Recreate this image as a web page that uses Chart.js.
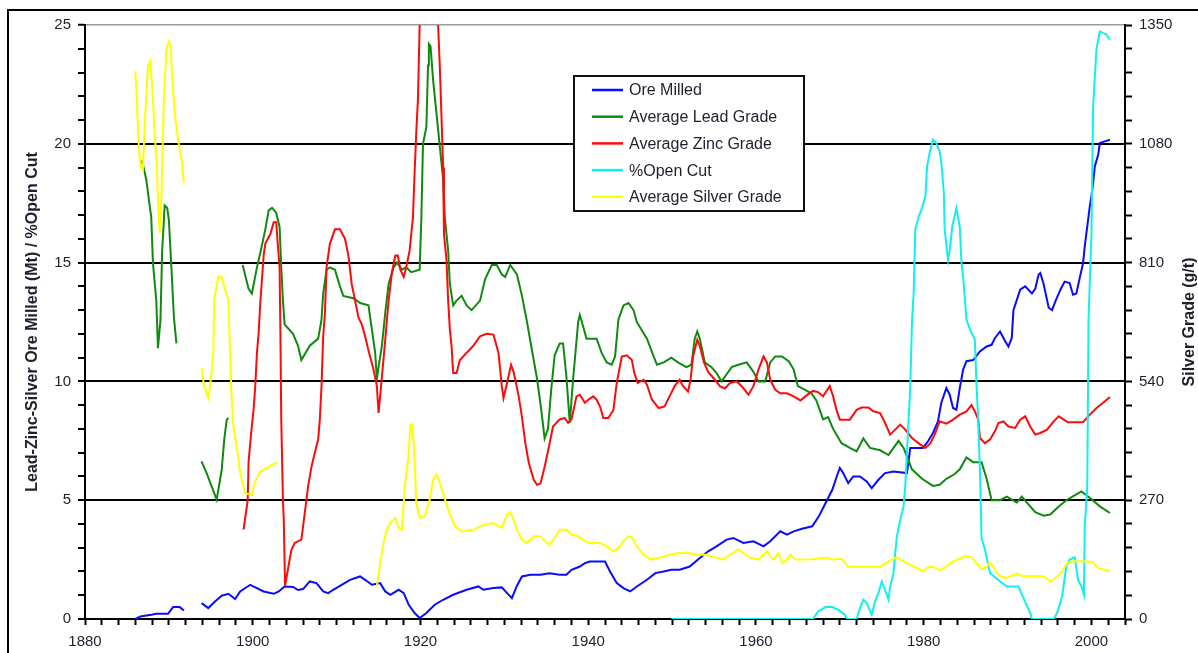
<!DOCTYPE html>
<html>
<head>
<meta charset="utf-8">
<script src="https://cdn.jsdelivr.net/npm/chart.js@4.4.1/dist/chart.umd.min.js"></script>
<style>
  html, body { margin: 0; padding: 0; background: #ffffff; }
  #wrap { width: 1198px; height: 653px; position: relative; }
</style>
</head>
<body>
<div id="wrap"><canvas id="c" width="1198" height="653"></canvas></div>
<script>
// ---- Ore milled (Mt), null marks a break in the record ----
const oreYears = [1886.0,1886.6,1887.9,1888.5,1889.9,1890.5,1891.3,1891.8,1892.8,1893.9,1894.7,1895.5,1896.3,1897.1,1897.9,1898.5,1899.7,1900.5,1901.3,1902.5,1903.1,1903.8,1904.8,1905.4,1906.0,1906.8,1907.6,1908.4,1909.0,1909.6,1910.6,1911.6,1912.8,1913.4,1914.2,1915.2,1915.8,1916.4,1917.4,1918.0,1918.6,1919.3,1919.9,1920.7,1921.7,1922.7,1923.9,1925.5,1926.9,1927.5,1928.7,1929.7,1930.3,1930.9,1931.5,1932.1,1933.1,1934.3,1935.4,1936.6,1937.4,1938.0,1939.0,1939.6,1940.2,1942.0,1942.6,1943.4,1944.2,1945.0,1945.8,1947.0,1948.0,1949.0,1949.9,1950.9,1952.1,1953.3,1954.3,1955.3,1956.5,1957.3,1958.5,1959.7,1960.9,1961.7,1962.9,1963.7,1964.5,1965.5,1966.7,1967.5,1968.3,1969.1,1969.7,1970.0,1970.4,1971.0,1971.6,1972.4,1973.2,1973.8,1974.6,1975.4,1976.4,1978.0,1978.4,1979.9,1980.5,1981.1,1981.7,1982.1,1982.7,1983.1,1983.5,1983.9,1984.3,1984.7,1985.1,1985.9,1986.7,1987.5,1988.1,1988.5,1989.1,1989.7,1990.1,1990.5,1990.7,1991.5,1992.1,1992.9,1993.3,1993.7,1993.9,1994.3,1994.9,1995.3,1995.7,1996.3,1996.8,1997.4,1997.8,1998.2,1998.6,1999.0,1999.2,1999.6,1999.8,2000.0,2000.2,2000.4,2000.8,2001.0,2001.6,2002.2];
const oreMilled = [0.0,0.11,0.18,0.22,0.22,0.5,0.5,0.36,null,0.67,0.46,0.74,0.98,1.06,0.84,1.16,1.44,1.3,1.16,1.06,1.16,1.37,1.35,1.22,1.26,1.58,1.51,1.16,1.09,1.23,1.44,1.65,1.79,1.65,1.44,1.51,1.16,1.02,1.23,1.09,0.6,0.25,0.04,0.25,0.6,0.81,1.02,1.23,1.37,1.23,1.3,1.33,1.1,0.88,1.4,1.79,1.86,1.86,1.93,1.86,1.86,2.07,2.21,2.35,2.42,2.42,2.0,1.51,1.3,1.16,1.37,1.65,1.93,2.0,2.07,2.07,2.21,2.57,2.85,3.06,3.34,3.41,3.2,3.27,3.06,3.27,3.69,3.55,3.69,3.8,3.9,4.32,4.88,5.44,6.07,6.36,6.14,5.72,6.0,6.0,5.79,5.51,5.86,6.14,6.21,6.14,7.2,7.2,7.47,7.83,8.32,9.1,9.72,9.44,8.88,8.81,9.72,10.5,10.85,10.9,11.26,11.47,11.54,11.83,12.1,11.7,11.47,11.83,13.0,13.86,14.0,13.7,13.9,14.5,14.56,14.1,13.1,13.0,13.37,13.86,14.2,14.14,13.65,13.7,14.35,14.98,15.68,16.8,17.37,17.8,18.35,19.05,19.54,20.03,20.1,20.17];

// ---- Average lead grade (%) ----
const leadYears = [1886.8,1887.3,1887.9,1888.1,1888.5,1888.7,1889.0,1889.2,1889.5,1889.8,1890.0,1890.3,1890.6,1890.9,1892.5,1893.9,1894.5,1895.1,1895.7,1896.3,1896.6,1896.9,1897.1,1898.0,1898.8,1899.5,1899.9,1900.5,1900.9,1901.5,1901.9,1902.3,1902.8,1903.2,1903.4,1903.6,1903.8,1904.8,1905.4,1905.8,1906.8,1907.8,1908.2,1908.4,1908.8,1909.2,1909.8,1910.4,1910.8,1912.0,1912.8,1913.8,1914.2,1914.6,1914.8,1915.0,1915.4,1915.8,1916.2,1916.8,1917.2,1917.8,1918.3,1918.9,1919.9,1920.1,1920.3,1920.7,1920.9,1921.0,1921.2,1921.5,1921.9,1922.3,1922.7,1922.9,1923.3,1923.5,1923.9,1924.3,1924.9,1925.5,1926.1,1927.1,1927.7,1928.5,1929.1,1929.7,1930.1,1930.7,1931.5,1932.1,1932.7,1933.3,1933.9,1934.4,1934.8,1935.2,1935.6,1936.0,1936.6,1937.0,1937.4,1937.8,1938.2,1938.8,1939.0,1939.4,1939.8,1941.0,1941.6,1942.2,1942.8,1943.2,1943.6,1944.2,1944.8,1945.4,1945.8,1947.0,1947.8,1948.2,1949.0,1949.9,1950.7,1951.7,1952.3,1952.7,1953.0,1953.3,1953.9,1954.7,1955.3,1955.9,1956.5,1957.1,1957.9,1958.9,1959.7,1960.3,1961.1,1961.7,1962.3,1963.1,1963.9,1964.5,1965.0,1965.8,1966.6,1967.2,1968.0,1968.6,1969.2,1970.2,1971.2,1972.0,1972.8,1973.6,1974.8,1975.8,1976.4,1977.0,1977.6,1978.6,1979.8,1981.1,1981.9,1982.7,1983.7,1984.3,1985.1,1985.9,1986.9,1987.5,1988.1,1989.1,1989.9,1991.1,1991.7,1992.3,1993.3,1994.3,1995.1,1996.0,1997.0,1998.0,1998.8,1999.8,2001.0,2002.2];
const leadGrade = [19.3,18.5,16.9,15.0,13.4,11.4,12.6,15.5,17.4,17.3,16.8,14.8,12.7,11.6,null,6.63,6.14,5.58,5.02,6.28,7.55,8.39,8.46,null,14.9,13.9,13.7,14.8,15.4,16.4,17.2,17.3,17.1,16.5,14.8,13.4,12.4,12.0,11.5,10.9,11.5,11.8,12.6,13.7,14.7,14.8,14.7,14.0,13.6,13.5,13.3,13.2,12.2,11.2,10.1,10.6,11.5,12.9,14.1,14.8,15.0,14.7,14.8,14.6,14.7,16.8,20.0,20.7,23.3,24.2,24.1,22.7,21.3,19.9,18.5,16.9,15.5,14.1,13.2,13.4,13.6,13.2,13.0,13.4,14.3,14.9,14.9,14.5,14.4,14.9,14.5,13.6,12.5,11.3,10.1,8.8,7.6,8.0,9.7,11.1,11.6,11.6,10.2,8.25,10.1,12.5,12.8,12.3,11.8,11.8,11.2,10.8,10.7,11.05,12.6,13.2,13.3,13.0,12.5,11.8,11.05,10.7,10.8,11.0,10.8,10.6,10.7,11.8,12.1,11.8,10.8,10.6,10.35,10.0,10.3,10.6,10.7,10.8,10.4,10.0,10.0,10.8,11.05,11.05,10.85,10.5,9.8,9.65,9.5,9.2,8.4,8.5,8.0,7.4,7.2,7.05,7.6,7.2,7.1,6.9,7.2,7.5,7.2,6.3,5.9,5.6,5.65,5.9,6.1,6.3,6.8,6.6,6.6,5.9,5.0,5.0,5.15,4.9,5.15,4.9,4.5,4.35,4.4,4.7,5.0,5.2,5.37,5.1,4.74,4.46];

// ---- Average zinc grade (%) ----
const zincYears = [1898.9,1899.3,1899.4,1899.5,1899.8,1900.1,1900.3,1900.5,1900.7,1900.9,1901.3,1901.5,1902.1,1902.5,1902.8,1903.0,1903.2,1903.3,1903.4,1903.6,1903.7,1903.85,1904.6,1905.0,1905.8,1906.2,1906.6,1907.0,1907.4,1907.8,1908.0,1908.2,1908.4,1908.6,1908.8,1909.2,1909.8,1910.4,1911.0,1911.4,1911.8,1912.2,1912.6,1913.0,1913.4,1913.8,1914.4,1914.8,1915.0,1915.2,1915.4,1915.8,1916.0,1916.2,1916.6,1917.0,1917.3,1917.6,1918.0,1918.3,1918.7,1919.1,1919.3,1919.5,1919.7,1919.9,1920.3,1921.0,1921.8,1922.1,1922.3,1922.5,1922.7,1922.8,1923.1,1923.3,1923.5,1923.7,1923.9,1924.3,1924.7,1925.5,1926.3,1927.1,1927.9,1928.7,1929.3,1929.7,1929.9,1930.3,1930.8,1931.1,1931.7,1932.1,1932.5,1932.9,1933.5,1933.9,1934.3,1934.8,1935.4,1935.8,1936.6,1937.2,1937.6,1938.0,1938.6,1939.0,1939.6,1940.0,1940.6,1941.0,1941.4,1941.8,1942.4,1943.0,1943.4,1944.0,1944.6,1945.2,1945.5,1945.9,1946.6,1947.0,1947.6,1948.4,1949.1,1949.7,1950.3,1950.9,1951.3,1951.9,1952.2,1952.5,1953.0,1953.3,1953.8,1954.3,1955.1,1955.7,1956.3,1956.9,1957.7,1958.3,1959.1,1959.7,1960.3,1960.9,1961.3,1961.7,1962.3,1962.9,1963.7,1964.5,1965.3,1966.0,1966.8,1967.4,1968.0,1968.8,1969.2,1969.6,1970.0,1971.2,1972.0,1972.6,1973.4,1974.0,1974.8,1975.4,1976.0,1976.6,1977.2,1977.8,1978.6,1979.6,1980.2,1980.8,1981.3,1981.9,1982.7,1983.5,1984.3,1985.1,1985.7,1986.1,1986.5,1986.7,1987.3,1987.9,1988.5,1988.9,1989.5,1990.1,1990.9,1991.5,1992.1,1992.7,1993.3,1993.9,1994.7,1995.5,1996.1,1996.7,1997.2,1999.0,1999.8,2000.6,2001.4,2002.2];
const zincGrade = [3.76,4.74,5.0,6.6,7.8,8.8,9.8,11.2,12.0,13.3,15.3,15.8,16.2,16.7,16.7,15.7,14.8,12.0,8.4,5.0,4.2,1.4,2.9,3.2,3.34,4.46,5.58,6.4,7.0,7.55,8.4,9.8,11.9,12.8,14.8,15.8,16.4,16.4,16.0,15.3,14.1,13.4,12.7,12.4,11.9,11.3,10.5,9.8,8.67,9.4,10.2,11.75,12.6,13.4,14.6,15.3,15.3,14.7,14.4,14.8,15.5,16.9,18.8,20.5,21.9,25.0,27.0,28.0,27.0,25.0,23.3,21.2,19.0,16.2,15.1,13.4,12.2,11.5,10.35,10.35,10.9,11.2,11.5,11.9,12.0,11.97,11.2,9.8,9.3,9.9,10.7,10.4,9.4,8.5,7.4,6.6,5.86,5.65,5.7,6.4,7.4,8.1,8.4,8.46,8.25,8.4,9.37,9.44,9.1,9.23,9.37,9.23,8.95,8.46,8.46,8.8,9.93,11.05,11.1,10.9,10.35,9.93,10.07,9.86,9.23,8.88,8.95,9.37,9.8,10.07,9.8,9.58,10.07,11.05,11.75,11.5,10.8,10.4,10.07,9.8,9.7,9.93,10.0,9.8,9.44,9.8,10.5,11.05,10.8,10.07,9.65,9.5,9.5,9.37,9.2,9.4,9.6,9.55,9.37,9.8,9.37,8.8,8.39,8.39,8.8,8.9,8.9,8.74,8.67,8.25,7.76,7.97,8.18,7.97,7.62,7.34,7.2,7.4,7.76,8.32,8.22,8.39,8.6,8.74,9.0,8.74,8.39,7.62,7.4,7.55,7.9,8.25,8.32,8.1,8.04,8.39,8.53,8.1,7.76,7.83,7.97,8.32,8.53,8.39,8.28,8.28,8.6,8.88,9.1,9.34];

// ---- Share of ore from open cut (%) ----
const openYears = [1949.9,1966.8,1967.4,1968.3,1969.1,1969.8,1970.6,1970.9,1972.0,1972.4,1972.8,1973.2,1973.8,1974.2,1974.6,1975.0,1975.4,1975.8,1976.0,1976.4,1976.6,1976.8,1977.2,1977.6,1977.8,1978.0,1978.2,1978.4,1978.6,1978.8,1979.0,1979.4,1979.8,1980.2,1980.4,1980.7,1981.1,1981.5,1981.9,1982.1,1982.4,1982.5,1982.9,1983.1,1983.4,1983.9,1984.3,1984.5,1984.7,1985.1,1985.5,1986.1,1986.3,1986.5,1986.7,1986.9,1987.3,1987.9,1989.1,1989.9,1991.3,1991.8,1992.7,1992.9,1995.5,1995.9,1996.5,1997.0,1997.4,1998.0,1998.4,1998.8,1999.1,1999.2,1999.5,1999.65,2000.0,2000.1,2000.2,2000.4,2000.6,2001.0,2001.4,2001.8,2002.2];
const openCut = [0,0,0.32,0.5,0.5,0.39,0.18,0,0,0.46,0.81,0.67,0.18,0.74,1.09,1.58,1.23,0.81,1.37,1.93,2.78,3.48,4.18,4.74,5.58,6.99,8.39,9.79,12.5,13.7,16.4,16.94,17.3,17.8,19.05,19.6,20.17,20.03,19.68,19.2,17.93,16.4,15.1,15.5,16.5,17.3,16.5,15.0,14.4,12.6,12.2,11.75,9.79,8.39,6.28,3.41,2.92,1.94,1.58,1.37,1.37,0.95,0.25,0,0,0.25,0.95,2.21,2.5,2.6,1.65,1.37,1.02,3.9,5.58,12.6,16.2,19.05,21.57,22.84,24.0,24.73,24.66,24.6,24.38];

// ---- Average silver grade (g/t, right axis) ----
const silverYears = [1886.0,1886.2,1886.4,1886.6,1886.9,1887.2,1887.3,1887.5,1887.8,1888.1,1888.3,1888.5,1888.7,1888.9,1889.1,1889.3,1889.4,1889.7,1890.0,1890.2,1890.4,1890.7,1891.1,1891.5,1891.8,1892.8,1893.9,1894.2,1894.7,1895.0,1895.3,1895.4,1895.9,1896.3,1896.7,1897.1,1897.2,1897.3,1897.5,1897.7,1898.2,1898.5,1899.1,1899.9,1900.2,1900.9,1901.7,1902.3,1902.9,1908.0,1914.8,1915.2,1915.6,1916.0,1916.4,1917.0,1917.4,1917.8,1918.1,1918.6,1918.8,1919.0,1919.2,1919.5,1919.9,1920.5,1921.1,1921.5,1921.9,1922.3,1922.7,1923.3,1924.1,1924.9,1926.3,1927.5,1928.7,1929.7,1930.3,1930.7,1931.1,1931.5,1932.1,1932.7,1933.5,1934.3,1934.8,1935.4,1936.0,1936.6,1937.4,1938.0,1938.8,1939.6,1940.2,1941.4,1942.2,1943.0,1943.6,1944.2,1944.8,1945.2,1945.8,1946.6,1947.5,1948.5,1949.7,1950.9,1951.9,1952.9,1954.1,1955.3,1956.1,1956.9,1957.9,1958.5,1959.3,1960.3,1960.9,1961.3,1961.7,1962.1,1962.7,1963.1,1963.5,1964.1,1964.7,1965.3,1966.8,1968.4,1969.2,1970.2,1971.0,1972.4,1974.8,1975.8,1976.8,1977.6,1978.8,1980.0,1980.5,1981.1,1981.9,1982.7,1983.5,1984.3,1984.9,1985.7,1986.3,1986.9,1987.5,1987.9,1988.3,1988.9,1989.7,1990.3,1991.1,1991.9,1993.1,1994.3,1995.1,1995.7,1996.5,1997.1,1998.0,1999.0,2000.2,2000.8,2001.4,2002.2];
const silverGrade = [1245,1172,1080,1029,1021,1156,1180,1256,1269,1180,1104,1051,953,878,953,1104,1180,1294,1312,1301,1233,1150,1089,1044,991,null,570,529,502,544,605,726,779,777,748,726,658,605,491,437,378,332,286,282,309,335,343,351,355,null,74,127,173,203,218,230,207,203,294,377,442,442,400,264,230,233,271,316,328,309,286,248,211,199,203,214,218,207,237,243,226,203,180,173,188,188,177,169,184,203,203,192,188,177,173,173,165,154,161,177,188,186,165,146,135,139,146,150,150,146,146,139,135,146,158,150,139,135,146,154,143,135,150,127,131,146,135,135,136,140,135,137,119,119,119,131,140,131,119,108,118,118,111,119,131,137,143,140,127,113,119,129,119,100,93,97,103,97,98,97,85,93,108,127,131,131,129,116,113,108];

// ---- Axis tick labels ----
const yearLabels = [1880, 1900, 1920, 1940, 1960, 1980, 2000];
const leftLabels = [0, 5, 10, 15, 20, 25];
const rightLabels = [0, 270, 540, 810, 1080, 1350];

const FONT = "'Liberation Sans', Arial, Helvetica, sans-serif";
const INK = '#1f1f2e';

function points(xs, ys) {
  return xs.map((x, i) => ({ x: x, y: ys[i] }));
}

const series = [
  { label: 'Ore Milled', xs: oreYears, ys: oreMilled, color: '#0a0aff', axis: 'y' },
  { label: 'Average Lead Grade', xs: leadYears, ys: leadGrade, color: '#0f8a0f', axis: 'y' },
  { label: 'Average Zinc Grade', xs: zincYears, ys: zincGrade, color: '#ff0a0a', axis: 'y' },
  { label: '%Open Cut', xs: openYears, ys: openCut, color: '#0ff0f0', axis: 'y' },
  { label: 'Average Silver Grade', xs: silverYears, ys: silverGrade, color: '#ffff00', axis: 'y1' }
];

// later series sit on top of earlier ones
const datasets = series.map((s, i) => ({
  label: s.label,
  data: points(s.xs, s.ys),
  borderColor: s.color,
  backgroundColor: s.color,
  borderWidth: 2,
  pointRadius: 0,
  pointHoverRadius: 0,
  tension: 0,
  fill: false,
  spanGaps: false,
  yAxisID: s.axis,
  order: series.length - i
}));

// frame, rotated axis titles and the boxed key
const decorations = {
  id: 'decorations',
  beforeDraw(chart) {
    const ctx = chart.ctx;
    ctx.save();
    ctx.fillStyle = '#ffffff';
    ctx.fillRect(0, 0, chart.width, chart.height);
    ctx.strokeStyle = '#000';
    ctx.lineWidth = 2;
    ctx.beginPath();
    ctx.moveTo(8, chart.height + 2);
    ctx.lineTo(8, 10);
    ctx.lineTo(chart.width + 2, 10);
    ctx.stroke();
    ctx.restore();
  },
  afterDraw(chart) {
    const ctx = chart.ctx;
    const area = chart.chartArea;
    const midY = (area.top + area.bottom) / 2;
    ctx.save();
    ctx.fillStyle = INK;
    ctx.font = "bold 16px " + FONT;
    ctx.textAlign = 'center';
    ctx.textBaseline = 'middle';
    ctx.translate(33, midY);
    ctx.rotate(-Math.PI / 2);
    ctx.fillText('Lead-Zinc-Silver Ore Milled (Mt) / %Open Cut', 0, 0);
    ctx.restore();

    ctx.save();
    ctx.fillStyle = INK;
    ctx.font = "bold 16px " + FONT;
    ctx.textAlign = 'center';
    ctx.textBaseline = 'middle';
    ctx.translate(1190, midY);
    ctx.rotate(-Math.PI / 2);
    ctx.fillText('Silver Grade (g/t)', 0, 0);
    ctx.restore();

    // key box
    const bx = 574, by = 76, bw = 230, bh = 135;
    ctx.save();
    ctx.fillStyle = '#ffffff';
    ctx.fillRect(bx, by, bw, bh);
    ctx.strokeStyle = '#111';
    ctx.lineWidth = 2;
    ctx.strokeRect(bx, by, bw, bh);
    ctx.font = "16px " + FONT;
    ctx.textBaseline = 'middle';
    ctx.textAlign = 'left';
    series.forEach((s, i) => {
      const y = 90 + i * 26.7;
      ctx.strokeStyle = s.color;
      ctx.lineWidth = 2.5;
      ctx.beginPath();
      ctx.moveTo(592, y);
      ctx.lineTo(623, y);
      ctx.stroke();
      ctx.fillStyle = INK;
      ctx.fillText(s.label, 629, y + 1);
    });
    ctx.restore();
  }
};

const tickFont = { family: FONT, size: 15 };

new Chart(document.getElementById('c'), {
  type: 'line',
  data: { datasets: datasets },
  options: {
    responsive: false,
    animation: false,
    devicePixelRatio: 1,
    layout: { padding: { top: 25, left: 0, right: 0, bottom: 0 } },
    plugins: { legend: { display: false }, tooltip: { enabled: false }, title: { display: false } },
    scales: {
      x: {
        type: 'linear',
        position: 'bottom',
        min: 1880,
        max: 2004,
        ticks: {
          stepSize: 2,
          autoSkip: false,
          maxRotation: 0,
          padding: 8,
          color: INK,
          font: tickFont,
          callback: v => yearLabels.includes(v) ? String(v) : ''
        },
        grid: { drawOnChartArea: false, drawTicks: true, tickLength: 6, tickColor: '#000', tickWidth: 2 },
        border: { display: true, color: '#000', width: 2 },
        afterFit: s => { s.height = 34; }
      },
      y: {
        type: 'linear',
        position: 'left',
        min: 0,
        max: 25,
        ticks: {
          stepSize: 1,
          autoSkip: false,
          padding: 7,
          color: INK,
          font: tickFont,
          callback: v => leftLabels.includes(v) ? String(v) : ''
        },
        grid: {
          drawOnChartArea: true,
          drawTicks: true,
          tickLength: 7,
          tickColor: '#000',
          tickWidth: 2,
          color: c => {
            const v = c.tick ? c.tick.value : -1;
            if (v === 25) return '#9a9a9a';
            if (v > 0 && v % 5 === 0) return '#000';
            return 'rgba(0,0,0,0)';
          },
          lineWidth: c => (c.tick && c.tick.value === 25) ? 1.5 : 2
        },
        border: { display: true, color: '#000', width: 2 },
        afterFit: s => { s.width = 85; }
      },
      y1: {
        type: 'linear',
        position: 'right',
        min: 0,
        max: 1350,
        ticks: {
          stepSize: 54,
          autoSkip: false,
          padding: 7,
          color: INK,
          font: tickFont,
          callback: v => rightLabels.includes(v) ? String(v) : ''
        },
        grid: { drawOnChartArea: false, drawTicks: true, tickLength: 7, tickColor: '#000', tickWidth: 2 },
        border: { display: true, color: '#000', width: 2 },
        afterFit: s => { s.width = 73; }
      }
    }
  },
  plugins: [decorations]
});
</script>
</body>
</html>
